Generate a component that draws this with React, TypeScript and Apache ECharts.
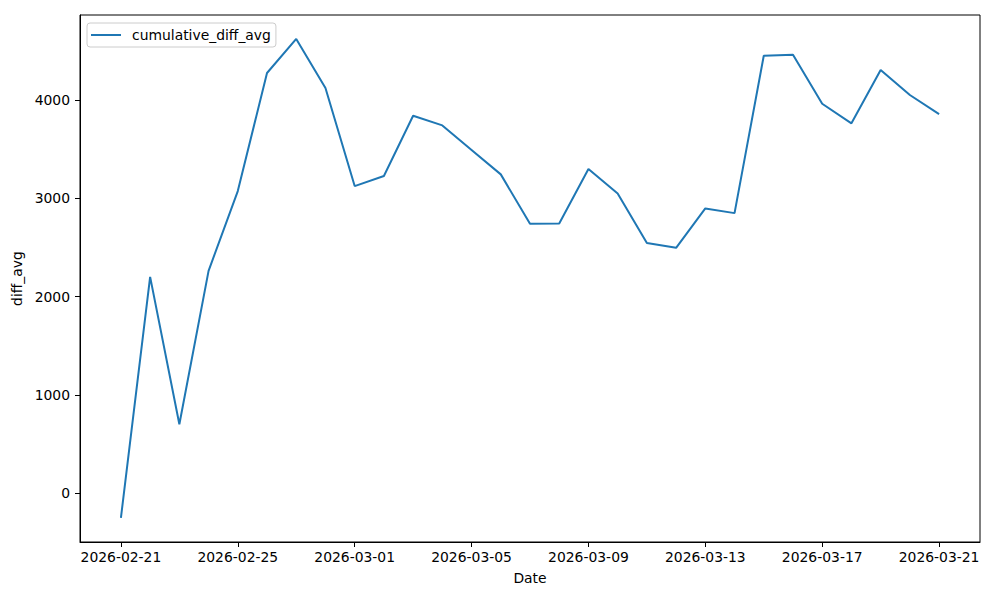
import React, { useEffect, useRef } from "react";
import * as echarts from "echarts";

const dates: string[] = [
  "2026-02-21", "2026-02-22", "2026-02-23", "2026-02-24", "2026-02-25",
  "2026-02-26", "2026-02-27", "2026-02-28", "2026-03-01", "2026-03-02",
  "2026-03-03", "2026-03-04", "2026-03-05", "2026-03-06", "2026-03-07",
  "2026-03-08", "2026-03-09", "2026-03-10", "2026-03-11", "2026-03-12",
  "2026-03-13", "2026-03-14", "2026-03-15", "2026-03-16", "2026-03-17",
  "2026-03-18", "2026-03-19", "2026-03-20", "2026-03-21",
];

const cumulativeDiffAvg: number[] = [
  -250, 2202, 702, 2263, 3074, 4275, 4622, 4122, 3125, 3228,
  3840, 3742, 3493, 3244, 2741, 2745, 3298, 3050, 2545, 2497,
  2898, 2850, 4451, 4461, 3962, 3763, 4305, 4051, 3857,
];

const xTickIndices: number[] = [0, 4, 8, 12, 16, 20, 24, 28];
const yTicks: number[] = [0, 1000, 2000, 3000, 4000];

const FONT = "DejaVu Sans";
const FS = 13.9;

export default function App() {
  const ref = useRef<HTMLDivElement>(null);

  useEffect(() => {
    if (!ref.current) return;
    const chart = echarts.init(ref.current, null, { renderer: "svg" });
    const data = dates.map((_, i) => [i, cumulativeDiffAvg[i]]);
    chart.setOption({
      animation: false,
      backgroundColor: "#ffffff",
      textStyle: { fontFamily: FONT },
      grid: {
        left: 80,
        right: 20,
        top: 15,
        bottom: 58,
        show: true,
        borderColor: "#000000",
        borderWidth: 1,
        containLabel: false,
      },
      legend: {
        show: true,
        left: 87,
        top: 23,
        orient: "vertical",
        padding: [5, 5, 5, 4],
        backgroundColor: "rgba(255,255,255,0.8)",
        borderColor: "#cccccc",
        borderWidth: 1,
        borderRadius: 3,
        icon: "rect",
        itemWidth: 30,
        itemHeight: 2,
        textStyle: {
          fontFamily: FONT,
          fontSize: FS,
          color: "#000000",
          padding: [0, 0, 0, 6],
        },
        data: ["cumulative_diff_avg"],
      },
      xAxis: {
        type: "value",
        min: -1.4,
        max: 29.4,
        name: "Date",
        nameLocation: "middle",
        nameGap: 29,
        nameTextStyle: { fontFamily: FONT, fontSize: FS, color: "#000000" },
        axisLine: { show: true, onZero: false, lineStyle: { color: "#000000", width: 1 } },
        axisTick: {
          show: true,
          length: 5,
          inside: false,
          customValues: xTickIndices,
          lineStyle: { color: "#000000", width: 1 },
        },
        axisLabel: {
          show: true,
          customValues: xTickIndices,
          margin: 8,
          fontFamily: FONT,
          fontSize: FS,
          color: "#000000",
          formatter: (v: number) => dates[Math.round(v)] ?? "",
        },
        splitLine: { show: false },
      },
      yAxis: {
        type: "value",
        min: -495,
        max: 4865,
        name: "diff_avg",
        nameLocation: "middle",
        nameGap: 48,
        nameRotate: 90,
        nameTextStyle: { fontFamily: FONT, fontSize: FS, color: "#000000" },
        axisLine: { show: true, onZero: false, lineStyle: { color: "#000000", width: 1 } },
        axisTick: {
          show: true,
          length: 5,
          inside: false,
          customValues: yTicks,
          lineStyle: { color: "#000000", width: 1 },
        },
        axisLabel: {
          show: true,
          customValues: yTicks,
          margin: 10,
          fontFamily: FONT,
          fontSize: FS,
          color: "#000000",
          formatter: (v: number) => String(v),
        },
        splitLine: { show: false },
      },
      series: [
        {
          name: "cumulative_diff_avg",
          type: "line",
          data,
          showSymbol: false,
          symbol: "none",
          lineStyle: { color: "#1f77b4", width: 2 },
          itemStyle: { color: "#1f77b4" },
        },
      ],
    });
    return () => chart.dispose();
  }, []);

  return (
    <div
      ref={ref}
      style={{ position: "fixed", left: 0, top: 0, width: 1000, height: 600 }}
    />
  );
}
